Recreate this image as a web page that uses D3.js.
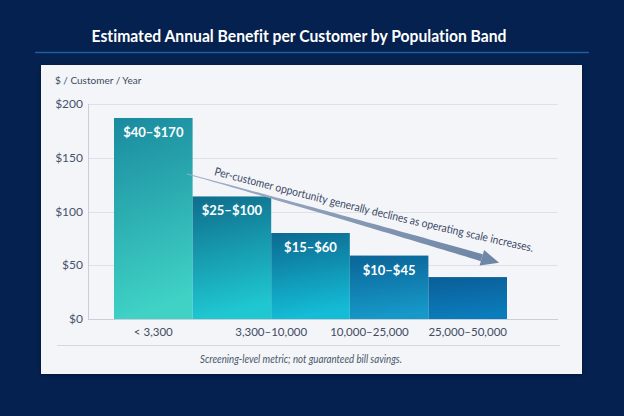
<!DOCTYPE html>
<html>
<head>
<meta charset="utf-8">
<script src="https://cdn.jsdelivr.net/npm/d3@7"></script>
<style>
  html, body { margin: 0; padding: 0; background: #04214f; }
  svg { display: block; }
</style>
</head>
<body>
<div id="chart"></div>
<script>
// chart data
var binIds = ["b1", "b2", "b3", "b4", "b5"];
var binValues = [187, 114, 80, 59, 39];
var binLabels = ["$40–$170", "$25–$100", "$15–$60", "$10–$45", ""];
var tickLabels = ["< 3,300", "3,300–10,000", "10,000–25,000", "25,000–50,000"];
var tickPositions = [0.5, 2, 3.25, 4.5];
var yTicks = [0, 50, 100, 150, 200];
var trendNote = "Per-customer opportunity generally declines as operating scale increases.";

var barTop = ["#1a8a9f", "#0f6d8d", "#0c6991", "#0b6497", "#0a5e98"];
var barBottom = ["#3fd2c5", "#1fc8d1", "#14bcd5", "#1698c8", "#0b7cbb"];

var W = 624, H = 416;
var plot = {left: 114, right: 507, top: 104, bottom: 319};
var gridLeft = 88, gridRight = 558;

var svg = d3.select("#chart").append("svg")
    .attr("width", W)
    .attr("height", H);

var defs = svg.append("defs");

// background
svg.append("rect").attr("width", W).attr("height", H).attr("fill", "#04214f");

// title
svg.append("text")
    .attr("x", 299).attr("y", 42)
    .attr("text-anchor", "middle")
    .attr("font-family", "Lato, sans-serif")
    .attr("font-weight", 700)
    .attr("font-size", 17.5)
    .attr("textLength", 415)
    .attr("lengthAdjust", "spacingAndGlyphs")
    .style("font-variant-ligatures", "none")
    .attr("fill", "#ffffff")
    .text("Estimated Annual Benefit per Customer by Population Band");

svg.append("line")
    .attr("x1", 35).attr("x2", 589)
    .attr("y1", 52.5).attr("y2", 52.5)
    .attr("stroke", "#1d5e9c").attr("stroke-width", 1.5);

// panel
var shadow = defs.append("filter").attr("id", "shadow")
    .attr("x", "-5%").attr("y", "-5%").attr("width", "110%").attr("height", "115%");
shadow.append("feDropShadow").attr("dx", 0).attr("dy", 1).attr("stdDeviation", 2)
    .attr("flood-color", "#000").attr("flood-opacity", 0.35);

svg.append("rect")
    .attr("x", 41).attr("y", 65).attr("width", 541).attr("height", 309)
    .attr("fill", "#f4f5f8")
    .attr("filter", "url(#shadow)");

svg.append("text")
    .attr("x", 55).attr("y", 84)
    .attr("font-family", "Lato, sans-serif")
    .attr("font-size", 10)
    .attr("fill", "#3d4b60")
    .text("$ / Customer / Year");

// scales
var x = d3.scaleLinear().domain([0, binIds.length]).range([plot.left, plot.right]);
var y = d3.scaleLinear().domain([0, 200]).range([plot.bottom, plot.top]);

// gridlines
svg.append("g").selectAll("line")
    .data(yTicks.filter(function(d) { return d > 0; }))
    .join("line")
    .attr("x1", gridLeft).attr("x2", gridRight)
    .attr("y1", function(d) { return Math.round(y(d)) + 0.5; })
    .attr("y2", function(d) { return Math.round(y(d)) + 0.5; })
    .attr("stroke", "#dde1e8");

// y axis line
svg.append("line")
    .attr("x1", gridLeft + 0.5).attr("x2", gridLeft + 0.5)
    .attr("y1", y(200)).attr("y2", y(0))
    .attr("stroke", "#c9ced8");

// y tick labels
svg.append("g").selectAll("text")
    .data(yTicks)
    .join("text")
    .attr("x", gridLeft - 5)
    .attr("y", function(d) { return y(d) + 4; })
    .attr("text-anchor", "end")
    .attr("font-family", "Lato, sans-serif")
    .attr("font-size", 12)
    .attr("fill", "#46536a")
    .text(function(d) { return "$" + d; });

// bar gradients
binIds.forEach(function(id, i) {
    var g = defs.append("linearGradient").attr("id", "grad-" + id)
        .attr("x1", 0).attr("y1", 0).attr("x2", 0.15).attr("y2", 1);
    g.append("stop").attr("offset", "0%").attr("stop-color", barTop[i]);
    g.append("stop").attr("offset", "100%").attr("stop-color", barBottom[i]);
});

// bars
svg.append("g").selectAll("rect")
    .data(binValues)
    .join("rect")
    .attr("x", function(d, i) { return x(i); })
    .attr("width", function(d, i) { return x(i + 1) - x(i); })
    .attr("y", function(d) { return y(d); })
    .attr("height", function(d) { return y(0) - y(d); })
    .attr("fill", function(d, i) { return "url(#grad-" + binIds[i] + ")"; });

// bar labels
svg.append("g").selectAll("text")
    .data(binValues)
    .join("text")
    .attr("x", function(d, i) { return x(i + 0.5); })
    .attr("y", function(d) { return y(d) + 19; })
    .attr("text-anchor", "middle")
    .attr("font-family", "Lato, sans-serif")
    .attr("font-weight", 700)
    .attr("font-size", 13)
    .attr("fill", "#ffffff")
    .text(function(d, i) { return binLabels[i]; });

// baseline
svg.append("line")
    .attr("x1", gridLeft).attr("x2", gridRight)
    .attr("y1", y(0) + 0.5).attr("y2", y(0) + 0.5)
    .attr("stroke", "#c9ced8");

// x labels
svg.append("g").selectAll("text")
    .data(tickLabels)
    .join("text")
    .attr("x", function(d, i) { return x(tickPositions[i]); })
    .attr("y", 336)
    .attr("text-anchor", "middle")
    .attr("font-family", "Lato, sans-serif")
    .attr("font-size", 11.5)
    .attr("fill", "#3f4c62")
    .text(function(d) { return d; });

svg.append("line")
    .attr("x1", 57).attr("x2", 560)
    .attr("y1", 345.5).attr("y2", 345.5)
    .attr("stroke", "#d3d7df");

svg.append("text")
    .attr("x", 301).attr("y", 363)
    .attr("text-anchor", "middle")
    .attr("font-family", "Lato, sans-serif")
    .attr("font-style", "italic")
    .attr("font-size", 10.5)
    .attr("textLength", 202)
    .attr("lengthAdjust", "spacingAndGlyphs")
    .attr("fill", "#4a566b")
    .text("Screening-level metric; not guaranteed bill savings.");

// trend arrow, anchored to the scales
var p0 = [x(0.93), y(135)], p1 = [x(3.0), y(93)], p2 = [x(4.68), y(57)];
function quad(t) {
    var a = (1 - t) * (1 - t), b = 2 * (1 - t) * t, c = t * t;
    return [a * p0[0] + b * p1[0] + c * p2[0], a * p0[1] + b * p1[1] + c * p2[1]];
}
var steps = d3.range(0, 1.0001, 0.02);
var upper = [], lower = [];
steps.forEach(function(t) {
    var p = quad(t), q = quad(Math.min(t + 0.01, 1)), r = quad(Math.max(t - 0.01, 0));
    var dx = q[0] - r[0], dy = q[1] - r[1], len = Math.sqrt(dx * dx + dy * dy);
    var nx = -dy / len, ny = dx / len;
    var hw = 0.4 + 3.2 * t;
    upper.push([p[0] + nx * hw, p[1] + ny * hw]);
    lower.unshift([p[0] - nx * hw, p[1] - ny * hw]);
});
var arrowGrad = defs.append("linearGradient").attr("id", "arrowGrad")
    .attr("gradientUnits", "userSpaceOnUse")
    .attr("x1", p0[0]).attr("y1", p0[1]).attr("x2", p2[0]).attr("y2", p2[1]);
arrowGrad.append("stop").attr("offset", "0%").attr("stop-color", "#a3b1c6");
arrowGrad.append("stop").attr("offset", "100%").attr("stop-color", "#6f86a6");

svg.append("path")
    .attr("d", d3.line()(upper.concat(lower)) + "Z")
    .attr("fill", "url(#arrowGrad)");

// arrow head
var e = quad(1), e0 = quad(0.97);
var ang = Math.atan2(e[1] - e0[1], e[0] - e0[0]);
var head = [[18, 0], [0, -8], [0, 8]].map(function(p) {
    return [e[0] + p[0] * Math.cos(ang) - p[1] * Math.sin(ang),
            e[1] + p[0] * Math.sin(ang) + p[1] * Math.cos(ang)];
});
svg.append("path")
    .attr("d", d3.line()(head) + "Z")
    .attr("fill", "#6f86a6");

// annotation text along a curve above the arrow, one word at a time
var t0 = [x(1.27), y(134)], t1 = [x(3.4), y(93)], t2 = [x(5.6), y(58)];
svg.append("path")
    .attr("id", "labelPath")
    .attr("d", "M" + t0 + "Q" + t1 + " " + t2)
    .attr("fill", "none");

var noteFont = {family: "Lato, sans-serif", size: 11.5};
var words = trendNote.split(" ");
var measure = svg.append("text")
    .attr("font-family", noteFont.family)
    .attr("font-size", noteFont.size)
    .attr("visibility", "hidden");
var widths = words.map(function(w) { measure.text(w); return measure.node().getComputedTextLength(); });
measure.text("a b");
var spaceW = measure.node().getComputedTextLength();
measure.text("ab");
spaceW -= measure.node().getComputedTextLength();
measure.remove();

var natural = d3.sum(widths) + spaceW * (words.length - 1);
var k = 328 / natural;
var offset = 0;
var noteG = svg.append("g");
words.forEach(function(w, i) {
    noteG.append("text")
        .attr("font-family", noteFont.family)
        .attr("font-size", noteFont.size)
        .attr("fill", "#3a4866")
      .append("textPath")
        .attr("href", "#labelPath")
        .attr("startOffset", offset)
        .attr("textLength", widths[i] * k)
        .attr("lengthAdjust", "spacingAndGlyphs")
        .text(w);
    offset += (widths[i] + spaceW) * k;
});
</script>
</body>
</html>
